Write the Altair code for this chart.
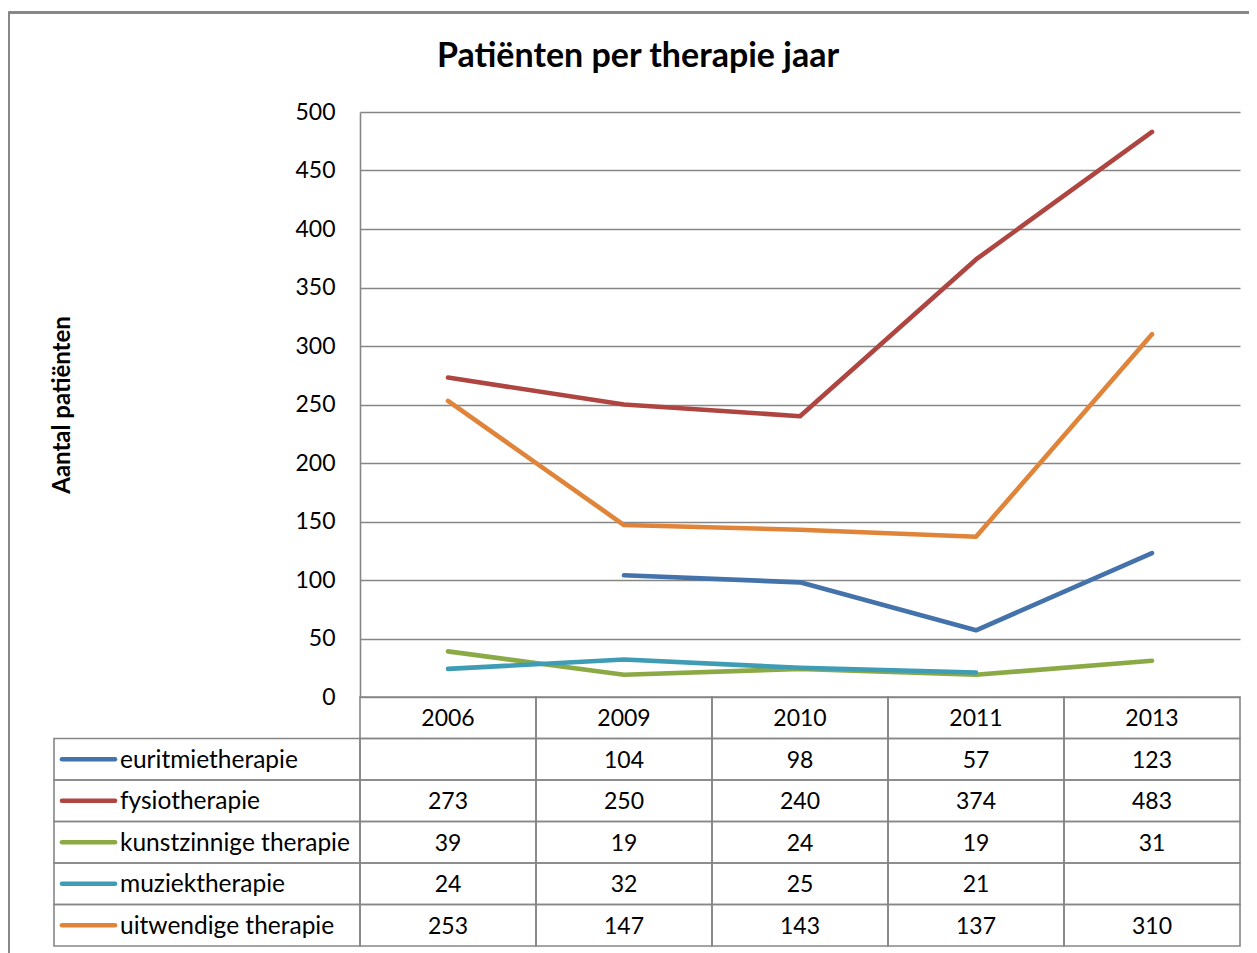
import altair as alt
import pandas as pd

years = ["2006", "2009", "2010", "2011", "2013"]
series = ["euritmietherapie", "fysiotherapie", "kunstzinnige therapie",
          "muziektherapie", "uitwendige therapie"]
euritmie = [None, 104, 98, 57, 123]
fysio = [273, 250, 240, 374, 483]
kunst = [39, 19, 24, 19, 31]
muziek = [24, 32, 25, 21, None]
uitwendig = [253, 147, 143, 137, 310]
colors = ["#4472AA", "#AF4540", "#8BAA45", "#3F9CB5", "#E08439"]
y_ticks = [0, 50, 100, 150, 200, 250, 300, 350, 400, 450, 500]
chart_title = "Patiënten per therapie jaar"
y_title = "Aantal patiënten"

FONT = "Lato"
GRID = "#868686"

values_by_series = [euritmie, fysio, kunst, muziek, uitwendig]
records = []
for s, vals in zip(series, values_by_series):
    for yr, v in zip(years, vals):
        records.append({"row": s, "year": yr, "value": v,
                        "label": "" if v is None else str(v)})
df = pd.DataFrame(records)

header_df = pd.DataFrame({"row": ["header"] * len(years), "year": years, "label": years})
cells_df = pd.DataFrame([{"row": r, "year": yr} for r in ["header"] + series for yr in years])
names_df = pd.DataFrame({"row": series})
title_df = pd.DataFrame({"t": [chart_title]})

rows = ["header"] + series

x_scale = alt.Scale(type="band", domain=years, paddingInner=0, paddingOuter=0)
y_line = alt.Scale(domain=[0, 500], range=[585, 0], nice=False)
y_tab = alt.Scale(type="band", domain=rows, range=[585, 834], paddingInner=0, paddingOuter=0)
color_scale = alt.Scale(domain=series, range=colors)

lines = alt.Chart(df).transform_filter("isValid(datum.value)").mark_line(
    strokeWidth=4.6, strokeCap="round", strokeJoin="round"
).encode(
    x=alt.X("year:O", scale=x_scale, bandPosition=0.5, axis=None),
    y=alt.Y("value:Q", scale=y_line, axis=alt.Axis(
        values=y_ticks, grid=True, gridColor=GRID, gridWidth=1.6,
        domain=True, domainColor=GRID, domainWidth=1.6, ticks=False,
        labelPadding=25, labelFont=FONT, labelFontSize=23, labelColor="black",
        title=y_title, titleFont=FONT, titleFontSize=24, titleFontWeight="bold",
        titleColor="black", titleX=-298, titleY=292.5, titleAngle=-90,
        titleBaseline="middle", titleAlign="center")),
    color=alt.Color("row:N", scale=color_scale, legend=None),
)

cells = alt.Chart(cells_df).mark_rect(fill="white", fillOpacity=0, stroke=GRID, strokeWidth=1.6).encode(
    x=alt.X("year:O", scale=x_scale, axis=None),
    y=alt.Y("row:N", scale=y_tab, axis=None),
)

name_cells = alt.Chart(names_df).mark_rect(fill="white", fillOpacity=0, stroke=GRID, strokeWidth=1.6).encode(
    x=alt.value(-306), x2=alt.value(0),
    y=alt.Y("row:N", scale=y_tab, axis=None),
)

swatches = alt.Chart(names_df).mark_rule(strokeWidth=4.6, strokeCap="round").encode(
    x=alt.value(-298), x2=alt.value(-245),
    y=alt.Y("row:N", scale=y_tab, axis=None, bandPosition=0.5),
    color=alt.Color("row:N", scale=color_scale, legend=None),
)

names = alt.Chart(names_df).mark_text(align="left", baseline="middle", font=FONT,
                                       fontSize=24.5, color="black", dy=1.5).encode(
    x=alt.value(-240),
    y=alt.Y("row:N", scale=y_tab, axis=None, bandPosition=0.5),
    text="row:N",
)

header_text = alt.Chart(header_df).mark_text(align="center", baseline="middle", font=FONT,
                                              fontSize=23, color="black", dy=1.5).encode(
    x=alt.X("year:O", scale=x_scale, bandPosition=0.5, axis=None),
    y=alt.Y("row:N", scale=y_tab, axis=None, bandPosition=0.5),
    text="label:N",
)

value_text = alt.Chart(df).mark_text(align="center", baseline="middle", font=FONT,
                                      fontSize=23, color="black", dy=1.5).encode(
    x=alt.X("year:O", scale=x_scale, bandPosition=0.5, axis=None),
    y=alt.Y("row:N", scale=y_tab, axis=None, bandPosition=0.5),
    text="label:N",
)

title_mark = alt.Chart(title_df).mark_text(align="center", baseline="alphabetic", font=FONT,
                                            fontSize=34, fontWeight="bold", color="black").encode(
    x=alt.value(278), y=alt.value(-45), text="t:N",
)

frame_left = alt.Chart(names_df).mark_rule(color=GRID, strokeWidth=2).encode(
    x=alt.value(-351.5), y=alt.value(-99.5), y2=alt.value(850),
)
frame_top = alt.Chart(names_df).mark_rule(color=GRID, strokeWidth=2).encode(
    x=alt.value(-351.5), x2=alt.value(900), y=alt.value(-99.5),
)

chart = alt.layer(
    frame_left, frame_top, title_mark, cells, name_cells, swatches, names,
    header_text, value_text, lines
).resolve_scale(y="independent").properties(
    width=880, height=834,
    padding={"left": 352, "top": 104, "right": 9, "bottom": 7},
    autosize=alt.AutoSizeParams(type="none"),
).configure_view(stroke=None)

chart.save("out.html", embed_options={"renderer": "svg", "actions": False})
